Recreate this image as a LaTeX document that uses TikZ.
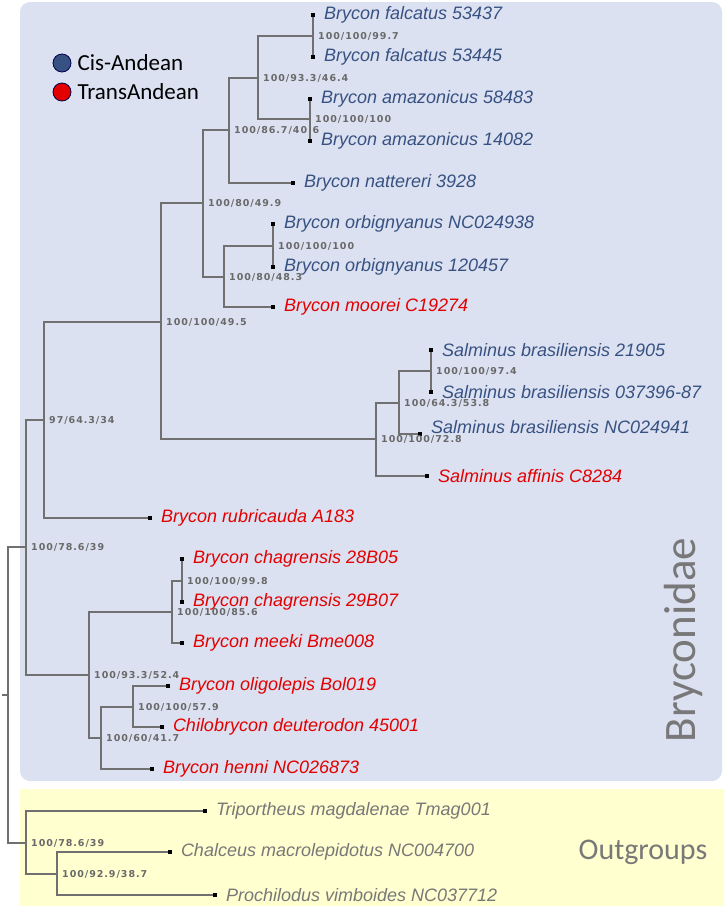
\documentclass[tikz,border=0pt]{standalone}
\usepackage{fontspec}
\setmainfont{Liberation Sans}
\newfontfamily\calibfont{Carlito}
\newfontfamily\suppfont[LetterSpace=10]{DejaVu Sans}
\usepackage{tikz}
\usetikzlibrary{positioning}
\definecolor{cisblue}{RGB}{55,82,130}
\definecolor{transred}{RGB}{226,0,0}
\definecolor{outgray}{RGB}{120,120,120}
\definecolor{suppgray}{RGB}{105,105,105}
\definecolor{branchgray}{RGB}{112,112,112}
\definecolor{bryfill}{RGB}{220,225,241}
\definecolor{outfill}{RGB}{255,255,208}
\tikzset{
  branch/.style={draw=branchgray, line width=1.8pt},
  tip/.style={rectangle, fill=black, inner sep=0pt, minimum size=3.2pt},
  spp/.style={font=\fontsize{18}{18}\selectfont\itshape, inner sep=0pt, right=9pt of #1},
  cis/.style={spp=#1, text=cisblue},
  trans/.style={spp=#1, text=transred},
  outg/.style={spp=#1, text=outgray},
  supp/.style={font=\suppfont\bfseries\fontsize{9.5}{9.5}\selectfont, text=suppgray,
    inner sep=0pt, right=5pt of #1},
  legdot/.style={circle, draw=black!70!blue, line width=0.8pt, minimum size=18pt, inner sep=0pt}
}

\begin{document}
\begin{tikzpicture}[x=1pt, y=-1pt]
  \useasboundingbox (0,0) rectangle (724,908);
  % Boxes
  \fill[bryfill, rounded corners=10pt] (20,2) rectangle (722,781);
  \fill[outfill] (20,789) rectangle (724,906);

  % Legend
  \node [legdot, fill=cisblue] (D1) at (62,63) {};
  \node [legdot, fill=transred] (D2) at (62,92) {};
  \node [font=\calibfont\fontsize{23}{23}\selectfont, inner sep=0pt, right=6pt of D1] (C1) {Cis-Andean};
  \node [font=\calibfont\fontsize{23}{23}\selectfont, inner sep=0pt, right=6pt of D2] (C2) {TransAndean};

  % Internal nodes
  \coordinate (R) at (8,695);
  \coordinate (R0) at (2,695);
  \coordinate (N1) at (26,547);
  \coordinate (N2) at (44,420);
  \coordinate (N3) at (161,322);
  \coordinate (N4) at (203,203);
  \coordinate (N5) at (229,130);
  \coordinate (N6) at (258,78);
  \coordinate (N7) at (313,36);
  \coordinate (N8) at (310,119);
  \coordinate (N9) at (224,277);
  \coordinate (N10) at (273,246);
  \coordinate (N11) at (376,439);
  \coordinate (N12) at (399,403);
  \coordinate (N13) at (431,371);
  \coordinate (N14) at (89,675);
  \coordinate (N15) at (172,612);
  \coordinate (N16) at (182,581);
  \coordinate (N17) at (101,738);
  \coordinate (N18) at (133,707);
  \coordinate (N19) at (26,843);
  \coordinate (N20) at (57,874);

  % Tips
  \node [tip] (T1) at (313,15) {};
  \node [tip] (T2) at (313,57) {};
  \node [tip] (T3) at (310,99) {};
  \node [tip] (T4) at (310,141) {};
  \node [tip] (T5) at (293,183) {};
  \node [tip] (T6) at (273,224) {};
  \node [tip] (T7) at (273,267) {};
  \node [tip] (T8) at (273,307) {};
  \node [tip] (T9) at (431,350) {};
  \node [tip] (T10) at (431,392) {};
  \node [tip] (T11) at (420,434) {};
  \node [tip] (T12) at (427,476) {};
  \node [tip] (T13) at (150,518) {};
  \node [tip] (T14) at (182,559) {};
  \node [tip] (T15) at (182,602) {};
  \node [tip] (T16) at (182,643) {};
  \node [tip] (T17) at (168,686) {};
  \node [tip] (T18) at (162,727) {};
  \node [tip] (T19) at (152,769) {};
  \node [tip] (T20) at (205,811) {};
  \node [tip] (T21) at (170,852) {};
  \node [tip] (T22) at (215,895) {};

  % Taxa
  \node [cis=T1] (L1) {Brycon falcatus 53437};
  \node [cis=T2] (L2) {Brycon falcatus 53445};
  \node [cis=T3] (L3) {Brycon amazonicus 58483};
  \node [cis=T4] (L4) {Brycon amazonicus 14082};
  \node [cis=T5] (L5) {Brycon nattereri 3928};
  \node [cis=T6] (L6) {Brycon orbignyanus NC024938};
  \node [cis=T7] (L7) {Brycon orbignyanus 120457};
  \node [trans=T8] (L8) {Brycon moorei C19274};
  \node [cis=T9] (L9) {Salminus brasiliensis 21905};
  \node [cis=T10] (L10) {Salminus brasiliensis 037396-87};
  \node [cis=T11, yshift=7pt] (L11) {Salminus brasiliensis NC024941};
  \node [trans=T12] (L12) {Salminus affinis C8284};
  \node [trans=T13] (L13) {Brycon rubricauda A183};
  \node [trans=T14] (L14) {Brycon chagrensis 28B05};
  \node [trans=T15] (L15) {Brycon chagrensis 29B07};
  \node [trans=T16] (L16) {Brycon meeki Bme008};
  \node [trans=T17] (L17) {Brycon oligolepis Bol019};
  \node [trans=T18] (L18) {Chilobrycon deuterodon 45001};
  \node [trans=T19] (L19) {Brycon henni NC026873};
  \node [outg=T20] (L20) {Triportheus magdalenae Tmag001};
  \node [outg=T21] (L21) {Chalceus macrolepidotus NC004700};
  \node [outg=T22] (L22) {Prochilodus vimboides NC037712};

  % Support values
  \node [supp=N1] (S1) {100/78.6/39};
  \node [supp=N2] (S2) {97/64.3/34};
  \node [supp=N3] (S3) {100/100/49.5};
  \node [supp=N4] (S4) {100/80/49.9};
  \node [supp=N5] (S5) {100/86.7/40.6};
  \node [supp=N6] (S6) {100/93.3/46.4};
  \node [supp=N7] (S7) {100/100/99.7};
  \node [supp=N8] (S8) {100/100/100};
  \node [supp=N9] (S9) {100/80/48.3};
  \node [supp=N10] (S10) {100/100/100};
  \node [supp=N11] (S11) {100/100/72.8};
  \node [supp=N12] (S12) {100/64.3/53.8};
  \node [supp=N13] (S13) {100/100/97.4};
  \node [supp=N14] (S14) {100/93.3/52.4};
  \node [supp=N15] (S15) {100/100/85.6};
  \node [supp=N16] (S16) {100/100/99.8};
  \node [supp=N17] (S17) {100/60/41.7};
  \node [supp=N18] (S18) {100/100/57.9};
  \node [supp=N19] (S19) {100/78.6/39};
  \node [supp=N20] (S20) {100/92.9/38.7};

  % Branches
  \draw [branch] (R0) -- (R);
  \draw [branch] (R) |- (N1);
  \draw [branch] (R) |- (N19);
  \draw [branch] (N1) |- (N2);
  \draw [branch] (N1) |- (N14);
  \draw [branch] (N2) |- (N3);
  \draw [branch] (N2) |- (T13);
  \draw [branch] (N3) |- (N4);
  \draw [branch] (N3) |- (N11);
  \draw [branch] (N4) |- (N5);
  \draw [branch] (N4) |- (N9);
  \draw [branch] (N5) |- (N6);
  \draw [branch] (N5) |- (T5);
  \draw [branch] (N6) |- (N7);
  \draw [branch] (N6) |- (N8);
  \draw [branch] (T1) -- (T2);
  \draw [branch] (T3) -- (T4);
  \draw [branch] (N9) |- (N10);
  \draw [branch] (N9) |- (T8);
  \draw [branch] (T6) -- (T7);
  \draw [branch] (N11) |- (N12);
  \draw [branch] (N11) |- (T12);
  \draw [branch] (N12) |- (N13);
  \draw [branch] (N12) |- (T11);
  \draw [branch] (T9) -- (T10);
  \draw [branch] (N14) |- (N15);
  \draw [branch] (N14) |- (N17);
  \draw [branch] (N15) |- (N16);
  \draw [branch] (N15) |- (T16);
  \draw [branch] (T14) -- (T15);
  \draw [branch] (N17) |- (N18);
  \draw [branch] (N17) |- (T19);
  \draw [branch] (N18) |- (T17);
  \draw [branch] (N18) |- (T18);
  \draw [branch] (N19) |- (T20);
  \draw [branch] (N19) |- (N20);
  \draw [branch] (N20) |- (T21);
  \draw [branch] (N20) |- (T22);

  % Group names
  \node [font=\calibfont\fontsize{45}{45}\selectfont, text=outgray, rotate=90] (G1) at (683,640) {Bryconidae};
  \node [font=\calibfont\fontsize{30}{30}\selectfont, text=outgray] (G2) at (643,852) {Outgroups};
\end{tikzpicture}
\end{document}
